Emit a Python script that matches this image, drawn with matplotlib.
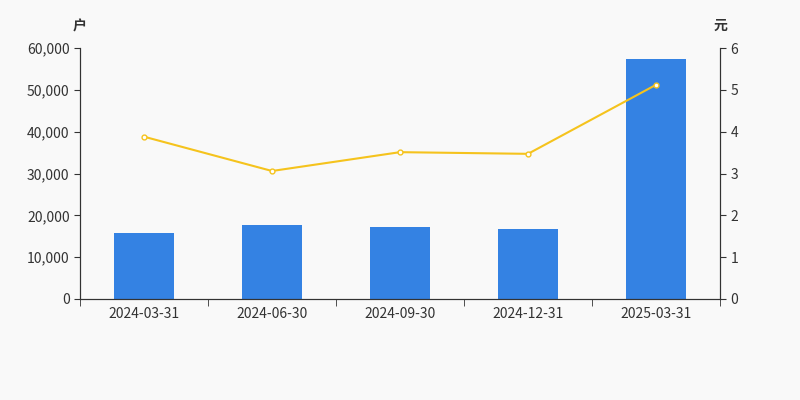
import numpy as np
import matplotlib.pyplot as plt

plt.rcParams['font.family'] = ['Noto Sans CJK SC', 'DejaVu Sans']

dates = ['2024-03-31', '2024-06-30', '2024-09-30', '2024-12-31', '2025-03-31']
holders = [15800, 17700, 17200, 16750, 57400]
price = [3.88, 3.06, 3.51, 3.47, 5.12]

fig = plt.figure(figsize=(8, 4), dpi=100, facecolor='#f9f9f9')
ax = fig.add_axes([0.1, 0.2525, 0.8, 0.6275])
ax.set_facecolor('#f9f9f9')
x = np.arange(len(dates))
ax.bar(x, holders, width=0.47, color='#3482e3', zorder=2)
ax.set_xlim(-0.5, len(dates) - 0.5)
ax.set_ylim(0, 60000)
ax.set_yticks(range(0, 60001, 10000))
ax.set_yticklabels([f'{v:,}' for v in range(0, 60001, 10000)])
ax.set_xticks(x)
ax.set_xticklabels(dates)
ax.set_xticks(np.arange(-0.5, len(dates)), minor=True)
ax.tick_params(axis='x', which='major', length=0, pad=6)
ax.tick_params(axis='x', which='minor', length=5, color='#333333')
ax.tick_params(axis='y', length=4, color='#333333')
ax.tick_params(labelsize=10, labelcolor='#333333')
for s in ['top']:
    ax.spines[s].set_visible(False)
for s in ['left', 'right', 'bottom']:
    ax.spines[s].set_color('#333333')

ax2 = ax.twinx()
ax2.plot(x, price, color='#f5c31d', lw=1.5, marker='o', ms=3.5,
         mfc='white', mec='#f5c31d', zorder=3)
ax2.set_ylim(0, 6)
ax2.set_yticks(range(0, 7))
ax2.tick_params(axis='y', length=4, color='#333333', labelsize=10, labelcolor='#333333')
ax2.spines['top'].set_visible(False)
for s in ['left', 'right', 'bottom']:
    ax2.spines[s].set_color('#333333')

fig.text(0.1, 0.925, '户', ha='center', fontsize=10, color='#333333', fontweight='bold')
fig.text(0.9, 0.925, '元', ha='center', fontsize=10, color='#333333', fontweight='bold')

fig.savefig('out.png', dpi=100, facecolor=fig.get_facecolor())
